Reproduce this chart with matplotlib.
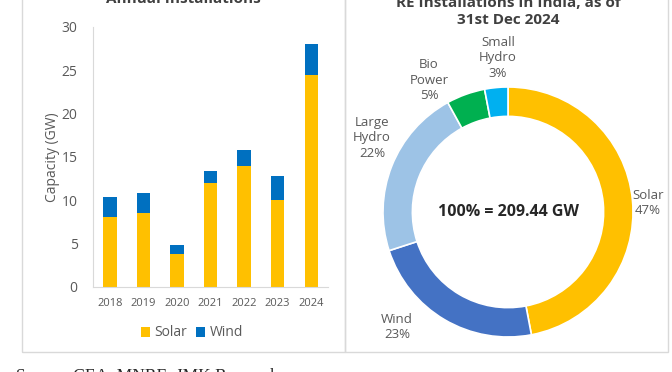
import matplotlib.pyplot as plt
from matplotlib.patches import Rectangle

plt.rcParams['font.family'] = ['Open Sans', 'DejaVu Sans']

# annual installations (GW)
years = ['2018', '2019', '2020', '2021', '2022', '2023', '2024']
solar = [8.1, 8.5, 3.8, 12.0, 14.0, 10.0, 24.5]
wind = [2.3, 2.4, 1.0, 1.4, 1.8, 2.8, 3.5]

# cumulative RE mix (%) as of 31st Dec 2024
mix_names = ['Solar', 'Wind', 'Large\nHydro', 'Bio\nPower', 'Small\nHydro']
mix_share = [47, 23, 22, 5, 3]
mix_colors = ['#FFC000', '#4472C4', '#9DC3E6', '#00B050', '#00B0F0']
total_label = '100% = 209.44 GW'

W, H = 672, 372
grey = '#595959'
fig = plt.figure(figsize=(W / 100, H / 100), dpi=100)

def fx(px):
    return px / W

def fy(py):
    return 1 - py / H

# panel frames
for x0, x1 in [(22, 345), (345, 668)]:
    fig.patches.append(Rectangle((fx(x0), fy(352)), fx(x1) - fx(x0), fy(-10) - fy(352),
                                 transform=fig.transFigure, fill=False,
                                 edgecolor='#D9D9D9', linewidth=1))

# ---- bar chart ----
ax = fig.add_axes([fx(93), fy(287), fx(328) - fx(93), fy(27) - fy(287)])
x = range(len(years))
ax.bar(x, solar, width=0.4, color='#FFC000', label='Solar')
ax.bar(x, wind, width=0.4, bottom=solar, color='#0070C0', label='Wind')
ax.set_xlim(-0.5, 6.5)
ax.set_ylim(0, 30)
ax.set_yticks(range(0, 31, 5))
ax.set_xticks(list(x))
ax.set_xticklabels(years)
ax.tick_params(axis='x', labelsize=8, colors=grey, length=0, pad=8)
ax.tick_params(axis='y', labelsize=10, colors=grey, length=0, pad=11)
for s in ['top', 'right']:
    ax.spines[s].set_visible(False)
for s in ['left', 'bottom']:
    ax.spines[s].set_color('#D9D9D9')
ax.set_ylabel('Capacity (GW)', fontsize=10, color=grey, labelpad=1)
ax.legend(loc='upper center', bbox_to_anchor=(0.42, -0.1), ncol=2, frameon=False,
          fontsize=10, labelcolor=grey, handlelength=0.7, handleheight=0.7,
          handletextpad=0.3, columnspacing=0.6)

fig.text(fx(183), fy(3), 'Annual Installations', ha='center', va='baseline',
         fontsize=11, fontweight='bold', color='#404040')

# ---- donut ----
r = 125
pax = fig.add_axes([fx(508 - r), fy(212 + r), fx(2 * r), 2 * r / H])
wedges, _ = pax.pie(mix_share, colors=mix_colors, startangle=90, counterclock=False,
                    radius=1, wedgeprops=dict(width=0.235, edgecolor='white', linewidth=1.2))
pax.set_aspect('equal')
pax.set_xlim(-1, 1)
pax.set_ylim(-1, 1)
pax.text(0, 0, total_label, ha='center', va='center', fontsize=11.5,
         fontweight='bold', color='#262626')

label_pos = [(648, 203), (397, 327), (372, 138), (429, 80), (498, 58)]
for name, share, (lx, ly) in zip(mix_names, mix_share, label_pos):
    fig.text(fx(lx), fy(ly), f'{name}\n{share}%', ha='center', va='center',
             fontsize=9.5, color=grey, linespacing=1.25)

fig.text(fx(508), fy(24), 'RE Installations in India, as of\n31st Dec 2024', ha='center',
         va='baseline', fontsize=11, fontweight='bold', color='#404040', linespacing=1.3)

fig.text(fx(16), fy(368), 'Source: CEA, MNRE, JMK Research', ha='left', va='top',
         fontsize=12.5, family=['Liberation Serif', 'DejaVu Serif'], color='#262626')

fig.savefig('out.png', dpi=100)
